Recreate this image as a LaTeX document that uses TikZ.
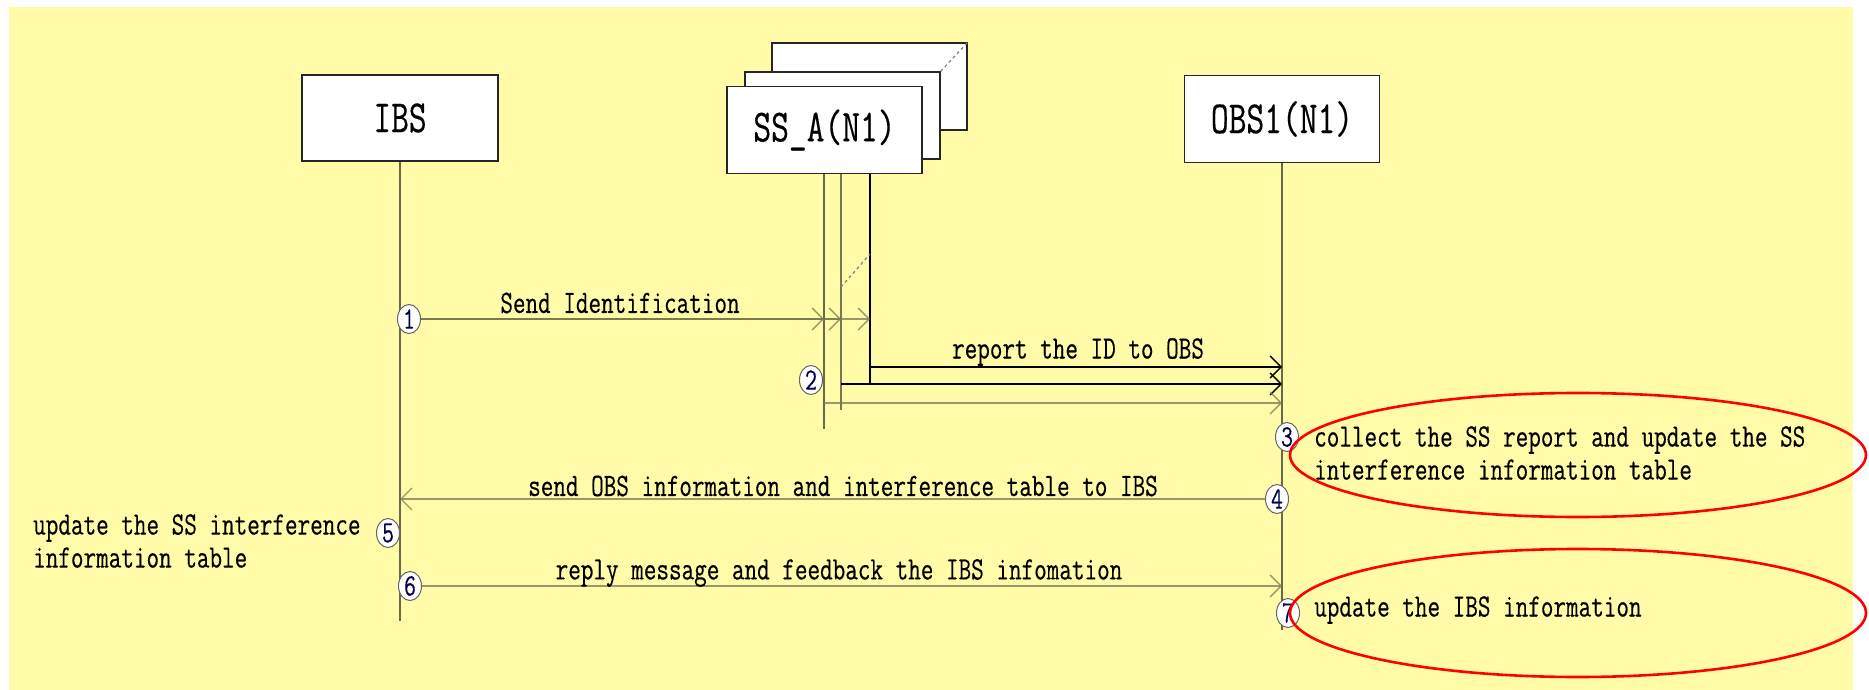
\documentclass[tikz,border=0pt]{standalone}
\usepackage{fontspec}
\newfontfamily\simmono[FakeStretch=0.75,FakeBold=0.35]{Latin Modern Mono}
\usetikzlibrary{arrows.meta,shapes.geometric}
\definecolor{bgyellow}{RGB}{255,251,168}
\definecolor{lifegray}{RGB}{105,105,75}
\definecolor{msgolive}{RGB}{120,120,80}
\begin{document}
\begin{tikzpicture}[x=1pt,y=-1pt,
box/.style={draw=black!85,line width=1.3pt,fill=white,minimum width=195pt,minimum height=87pt,font=\simmono\fontsize{46}{46}\selectfont},
num/.style={ellipse,draw=black!60,line width=1pt,fill=white,inner sep=0pt,minimum width=23pt,minimum height=29pt,font=\simmono\fontsize{31}{31}\selectfont,text=blue!30!black},
lbl/.style={font=\simmono\fontsize{32.6}{33}\selectfont,inner sep=3pt},
life/.style={draw=lifegray,line width=1.4pt},
msg/.style={draw=msgolive,draw opacity=0.75,line width=2.6pt,-{Straight Barb[length=11pt,width=22pt,line width=1.4pt]}},
rep/.style={draw=black,line width=1.6pt,-{Straight Barb[length=11pt,width=22pt,line width=1.3pt]}}]
\useasboundingbox(0,0)rectangle(1869,690);
\fill[bgyellow](9,7)rectangle(1853,690);
\node[box](SSc)at(869.5,86.5){};
\node[box](SSb)at(842.5,115.5){};
\node[box](SSA)at(824.5,130){SS\_A(N1)};
\draw[dashed,gray,line width=1.2pt](SSb.north east)--(SSc.north east);
\node[box,minimum width=196pt,minimum height=86pt](IBS)at(400,118){IBS};
\node[box](OBS)at(1282,119){OBS1(N1)};
\coordinate(ss1)at(824,174);\coordinate(ss2)at(841,174);\coordinate(ss3)at(870,174);
\draw[life](IBS.south)--++(0,459);
\draw[life](OBS.south)--++(0,467);
\draw[life](ss1)--++(0,255);
\draw[life,draw=msgolive,line width=2pt](ss2)--++(0,236);
\draw[life,draw=black](ss3)--++(0,210);
\draw[dashed,gray,line width=1.2pt](841,287)--(870,254);
\node[num](n1)at(409,319){1};
\node[num](n2)at(811,380){2};
\node[num](n3)at(1287,437){3};
\node[num](n4)at(1277,499){4};
\node[num](n5)at(388,533){5};
\node[num](n6)at(410,586){6};
\node[num](n7)at(1288,613){7};
\foreach \s in {ss1,ss2,ss3}\draw[msg](n1.east)--(n1-|\s);
\coordinate(r1)at(870,367);\coordinate(r2)at(841,384);\coordinate(r3)at(824,403);
\draw[rep](r1)--(r1-|OBS.south);
\draw[rep](r2)--(r2-|OBS.south);
\draw[msg](r3)--(r3-|OBS.south);
\draw[msg](n4.west)--(n4-|IBS.south);
\draw[msg](n6.east)--(n6-|OBS.south);
\node[lbl]at(620,303){Send Identification};
\node[lbl]at(1078,352){report the ID to OBS};
\node[lbl]at(843,486){send OBS information and interference table to IBS};
\node[lbl]at(839,573){reply message and feedback the IBS infomation};
\node[lbl,anchor=west,align=left]at(30,541){update the SS interference\\information table};
\node[lbl,anchor=west,align=left]at(1311,453){collect the SS report and update the SS\\interference information table};
\node[lbl,anchor=west]at(1311,610){update the IBS information};
\draw[red,line width=2.6pt](1578,455)ellipse[x radius=288,y radius=62];
\draw[red,line width=2.6pt](1578,613)ellipse[x radius=288,y radius=64];
\end{tikzpicture}
\end{document}
